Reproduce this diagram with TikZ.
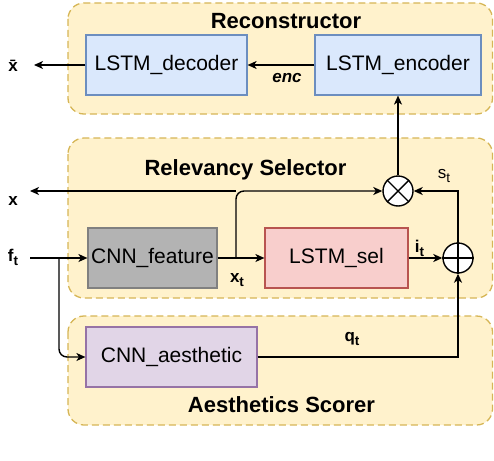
\documentclass[tikz,border=0pt]{standalone}
\usepackage{fontspec}
\setmainfont{Liberation Sans}
\usepackage{tikz}
\usetikzlibrary{positioning}
\usetikzlibrary{calc}
\usetikzlibrary{arrows.meta}
\definecolor{grpfill}{HTML}{FFF2CC}
\definecolor{grpline}{HTML}{D6B656}
\definecolor{bluefill}{HTML}{DAE8FC}
\definecolor{blueline}{HTML}{6C8EBF}
\definecolor{greyfill}{HTML}{B3B3B3}
\definecolor{greyline}{HTML}{808080}
\definecolor{redfill}{HTML}{F8CECC}
\definecolor{redline}{HTML}{B85450}
\definecolor{purplefill}{HTML}{E1D5E7}
\definecolor{purpleline}{HTML}{9673A6}
\newcommand{\lsub}[1]{\raisebox{-0.45ex}{\fontsize{13.5}{15}\selectfont #1}}
\tikzset{>={Stealth[length=9pt,width=8pt,inset=2.5pt]}}

\begin{document}
\begin{tikzpicture}[x=1pt, y=-1pt, line width=1.4pt,
  group/.style={draw=grpline, fill=grpfill, line width=1.3pt,
    dash pattern=on 7pt off 4pt, rounded corners=16pt},
  title/.style={font=\fontsize{22}{26}\selectfont\bfseries},
  block/.style={draw, line width=1.2pt, minimum height=60pt, inner sep=1pt,
    font=\fontsize{21}{25}\selectfont},
  lbl/.style={font=\fontsize{17}{20}\selectfont\bfseries, inner sep=1pt},
  op/.style={circle, draw, fill=white, minimum size=30pt, inner sep=0pt}]

\useasboundingbox (0,0) rectangle (494,460);

% Groups
\draw[group] (68,3) rectangle (492.5,114);
\draw[group] (68,138) rectangle (492.5,298);
\draw[group] (68,316) rectangle (492.5,425);

\node[title] (tRec) at (286,21) {Reconstructor};
\node[title] (tSel) at (245.5,170) {Relevancy Selector};
\node[title] (tAes) at (281.5,405) {Aesthetics Scorer};

% Blocks
\node[block, fill=bluefill, draw=blueline, minimum width=161pt] (dec) at (166.5,65) {LSTM\_decoder};
\node[block, fill=bluefill, draw=blueline, minimum width=166pt] (enc) at (398,65) {LSTM\_encoder};
\node[block, fill=greyfill, draw=greyline, minimum width=129pt] (feat) at (152.5,258) {CNN\_feature};
\node[block, fill=redfill, draw=redline, minimum width=143pt] (sel) at (336.5,258) {LSTM\_sel};
\node[block, fill=purplefill, draw=purpleline, minimum width=171pt] (aes) at (171.5,357) {CNN\_aesthetic};

% Operators
\node[op] (mul) at (398,191) {};
\draw (mul.north east) -- (mul.south west);
\draw (mul.north west) -- (mul.south east);
\node[op] (add) at (458,258) {};
\draw[line width=2pt] (add.north) -- (add.south);
\draw[line width=2pt] (add.west) -- (add.east);

% Inputs and outputs
\node[lbl] (xbar) at (13,66) {x̄};
\node[lbl] (xout) at (13,201) {x};
\node[lbl] (ft) at (13,257) {f\lsub{t}};
\coordinate (xbarEnd) at (34,65);
\coordinate (xEnd) at (30,191);
\coordinate (ftStart) at (30,258);
\coordinate (xtSplit) at (236,258);
\coordinate (xSplit) at (236,191);
\coordinate (ftSplit) at (59,258);

% Reconstructor
\draw[->] (dec.west) -- (xbarEnd);
\draw[->] (enc.west) -- node[below=4pt, xshift=6pt, font=\fontsize{17}{20}\selectfont\bfseries\itshape] (encLbl) {enc} (dec.east);
\draw[->] (mul.north) -- (enc.south);

% Relevancy selector
\draw[->] (ftStart) -- (feat.west);
\draw[->] (feat.east) -- (sel.west);
\node[lbl] (xt) at (237,280) {x\lsub{t}};
\draw[->, rounded corners=8pt] (xtSplit) |- (mul.west);
\draw[->] (xSplit) -- (xEnd);
\draw[->] (sel.east) -- node[lbl, above, xshift=-6pt] (it) {i\lsub{t}} (add.west);
\draw[->] (add.north) |- (mul.east);
\node[font=\fontsize{17}{20}\selectfont] (st) at (444,176) {s\lsub{t}};

% Aesthetics scorer
\draw[->, rounded corners=8pt] (ftSplit) |- (aes.west);
\draw[->] (aes.east) -| (add.south);
\node[lbl] (qt) at (352,339) {q\lsub{t}};

\end{tikzpicture}
\end{document}
